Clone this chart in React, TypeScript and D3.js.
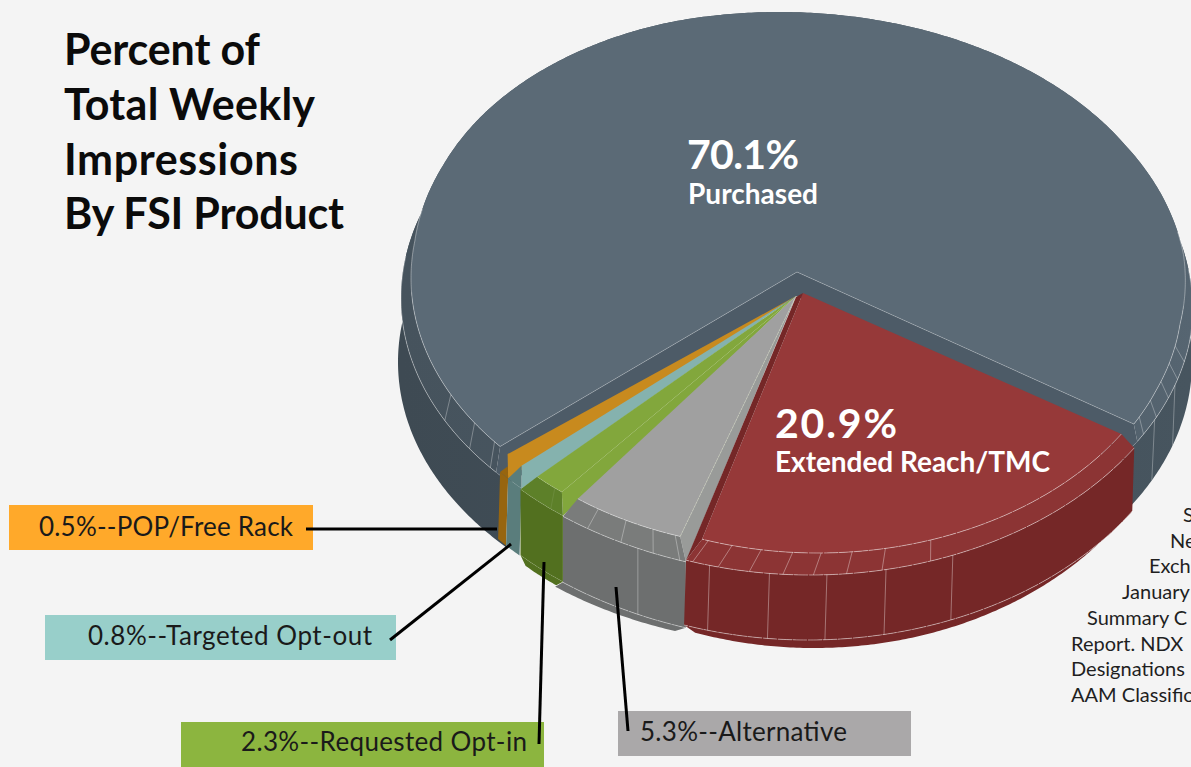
import React from "react";
import * as d3 from "d3";

// ---- data ----
const categories = ["Purchased", "Extended Reach/TMC", "Alternative", "Requested Opt-in", "Targeted Opt-out", "POP/Free Rack"];
const percents = [70.1, 20.9, 5.3, 2.3, 0.8, 0.5];
const titleLines = ["Percent of", "Total Weekly", "Impressions", "By FSI Product"];
const calloutLabels = ["0.5%--POP/Free Rack", "0.8%--Targeted Opt-out", "2.3%--Requested Opt-in", "5.3%--Alternative"];
const footLines = ["S", "Ne", "Exch", "January", "Summary C", "Report. NDX", "Designations", "AAM Classific"];

// ---- layout ----
const W = 1191, H = 767;
const FONT = "Lato, 'Open Sans', sans-serif";
type Ring = { cx: number; cy: number; rx: number; ry: number; dt?: number; warp?: (t: number) => number };
const rad = (d: number) => (d * Math.PI) / 180;
const deg = (r: number) => (r * 180) / Math.PI;
const START = 230.7;

const slices = d3.pie<number>().sort(null).value((d) => d).startAngle(rad(START)).endAngle(rad(START + 360))(percents);

// the picture's perspective pulls the far side of the top face to the left
const warpFace = d3
  .scaleLinear()
  .domain([-130, -82, -65, -50, -15, 20, 60, 85, 100, 115, 124])
  .range([0, 0, -5, -12, -27, -24, -21, -14, -13, -6, 0])
  .clamp(true);
const warpBevel = d3.scaleLinear().domain([-1, 0, 60, 85, 100, 124]).range([0, -14, -14, -8, -4, 0]).clamp(true);

const pt = (r: Ring, t: number): [number, number] => {
  const tt = t + (r.dt || 0);
  const a = rad(tt);
  const norm = ((((tt + 180) % 360) + 360) % 360) - 180;
  return [r.cx + r.rx * Math.sin(a) + (r.warp ? r.warp(norm) : 0), r.cy - r.ry * Math.cos(a)];
};
const arcPts = (r: Ring, t0: number, t1: number) => {
  const n = Math.max(2, Math.ceil(Math.abs(t1 - t0) * 2));
  return d3.range(n + 1).map((i) => pt(r, t0 + ((t1 - t0) * i) / n));
};
const closed = d3.line().curve(d3.curveLinearClosed);
const open = d3.line();
const band = (a: Ring, b: Ring, t0: number, t1: number) => closed([...arcPts(a, t0, t1), ...arcPts(b, t1, t0)]) as string;

type Look = {
  apex: [number, number]; rings: Ring[]; face: string; wall: string; bevel: string; side: string;
  bevelTicks: number[]; sideTicks: number[]; tipFrac?: number; noFace?: boolean; ink: number;
};
const looks: Look[] = [
  {
    apex: [797, 272], face: "#5b6a76", wall: "#4d5b67", bevel: "url(#slateBevel)", side: "url(#slateSide)", ink: 0.42,
    rings: [
      { cx: 805, cy: 278, rx: 394, ry: 266, warp: warpFace },
      { cx: 800, cy: 298, rx: 399, ry: 269, dt: -1.1, warp: warpBevel },
      { cx: 795, cy: 362, rx: 397, ry: 270, dt: -2 },
    ],
    bevelTicks: [232, 237, 244, 121.5, 117.4, 112.9, 108.7, 104.8], sideTicks: [118, 110],
  },
  {
    apex: [803, 293], face: "#963939", wall: "#752727", bevel: "#8c3434", side: "#752727", ink: 0.5,
    rings: [
      { cx: 818, cy: 289, rx: 363, ry: 264 },
      { cx: 810, cy: 293, rx: 388, ry: 282 },
      { cx: 808, cy: 354, rx: 388, ry: 286 },
      { cx: 814, cy: 355, rx: 372, ry: 293 },
    ],
    bevelTicks: [197.6, 193.7, 189, 184, 179.5, 174.6, 169.3, 161.9], sideTicks: [195, 186, 177.5, 168.7, 158.4],
  },
  {
    apex: [796, 296], face: "#a0a0a0", wall: "#999b99", bevel: "#7a7c7b", side: "#6d6f6f", ink: 0.45,
    rings: [
      { cx: 792, cy: 309, rx: 350, ry: 240 },
      { cx: 820, cy: 287, rx: 420, ry: 290 },
      { cx: 820, cy: 353, rx: 420, ry: 290 },
      { cx: 806, cy: 362, rx: 410, ry: 284 },
    ],
    bevelTicks: [213.6, 208.3, 203.4, 199.5], sideTicks: [205.7],
  },
  {
    apex: [796, 296], face: "#82a73c", wall: "#82a73c", bevel: "#5d8029", side: "#52701f", ink: 0.12,
    rings: [
      { cx: 702, cy: 367, rx: 229, ry: 158 },
      { cx: 804, cy: 299, rx: 394, ry: 274 },
      { cx: 804, cy: 365, rx: 394, ry: 274 },
      { cx: 730, cy: 427, rx: 284, ry: 200 },
    ],
    bevelTicks: [220], sideTicks: [],
  },
  {
    apex: [796, 296], face: "#85b2ae", wall: "#85b2ae", bevel: "#5a7d7c", side: "#5a7d7c", ink: 0, noFace: true, tipFrac: 0,
    rings: [
      { cx: 805, cy: 281, rx: 394, ry: 266 },
      { cx: 805, cy: 301, rx: 394, ry: 270 },
      { cx: 803, cy: 368, rx: 394, ry: 270 },
    ],
    bevelTicks: [], sideTicks: [],
  },
  {
    apex: [796, 296], face: "#c88a1e", wall: "#c88a1e", bevel: "#97650f", side: "#97650f", ink: 0, noFace: true, tipFrac: 0.5,
    rings: [
      { cx: 803, cy: 272, rx: 392, ry: 277 },
      { cx: 805, cy: 301, rx: 394, ry: 270 },
      { cx: 803, cy: 368, rx: 394, ry: 270 },
    ],
    bevelTicks: [], sideTicks: [],
  },
];

// callouts: box, label and leader
const boxColors = ["#ffa92a", "#98cfca", "#8cb53f", "#aaa8a9"];
const boxes = [
  { x: 9, y: 505, w: 304, h: 45, tx: 39, ty: 536, tw: 254 },
  { x: 45, y: 615, w: 351, h: 45, tx: 88, ty: 645, tw: 284 },
  { x: 181, y: 722, w: 363, h: 45, tx: 241, ty: 751, tw: 286 },
  { x: 618, y: 711, w: 293, h: 45, tx: 640, ty: 741, tw: 207 },
];
const leaders: [number, number][][] = [
  [[306, 529], [497, 529]],
  [[390, 640], [511, 544]],
  [[539, 744], [544, 562]],
  [[628, 731], [616, 587]],
];
const titleWidths = [196, 251, 234, 280];
const footX = [1183, 1170, 1149, 1122, 1087, 1071, 1071, 1071];

function Slice({ i }: { i: number }) {
  const s = slices[i];
  const L = looks[i];
  const t0 = deg(s.startAngle);
  const t1 = deg(s.endAngle);
  const [E1, E2, E3, E4] = L.rings;
  const p1a = pt(E1, t0), p2a = pt(E2, t0);
  const isRed = i === 1;
  const isSlate = i === 0;
  const wedge = isSlate ? null : (
    <path
      d={closed(isRed ? [L.apex, pt(E1, t1), pt(E2, t1), [796, 297]] : [L.apex, p1a, p2a]) as string}
      fill={L.wall}
    />
  );
  const frac = L.tipFrac;
  const bevelPath =
    frac === undefined
      ? band(E1, E2, t0, t1)
      : (closed([[p1a[0] + (p2a[0] - p1a[0]) * frac, p1a[1] + (p2a[1] - p1a[1]) * frac], ...arcPts(E2, t1, t0)]) as string);
  const tick = (a: Ring, b: Ring, t: number, k: number) => (
    <path key={`${k}-${t}`} d={open([pt(a, t), pt(b, t)]) as string} stroke="#fff" strokeOpacity={L.ink * 0.8} strokeWidth={0.9} fill="none" />
  );
  const rimLine = (r: Ring, a: number, b: number) => (
    <path d={open(arcPts(r, a, b)) as string} fill="none" stroke="#fff" strokeOpacity={L.ink} strokeWidth={0.9} strokeDasharray={isSlate ? undefined : "14 1"} />
  );
  return (
    <g>
      {E4 && <path d={band(E3, E4, t0, t1)} fill={L.side} />}
      <path d={isSlate ? band(E2, E3, t0 - 2, t1 + 4) : band(E2, E3, t0, t1)} fill={L.side} />
      {isSlate && (
        <path d={closed([L.apex, pt(E1, t0), pt(E2, t0), pt(E2, t0 - 3), [797, 296], pt(E2, t1 + 5), pt(E2, t1), pt(E1, t1)]) as string} fill={L.wall} />
      )}
      {!isRed && wedge}
      <path d={bevelPath} fill={L.bevel} />
      {!L.noFace && <path d={closed([L.apex, ...arcPts(E1, t0, t1)]) as string} fill={L.face} />}
      {isRed && wedge}
      {isSlate && <path d={open([pt(E1, t0), L.apex, pt(E1, t1)]) as string} fill="none" stroke="#fff" strokeOpacity={0.3} strokeWidth={0.8} />}
      {i === 2 && <path d={open([L.apex, pt(E1, t0)]) as string} fill="none" stroke="#d5dcc0" strokeOpacity={0.6} strokeWidth={0.8} strokeDasharray="3 1" />}
      {L.ink > 0 && !isSlate && rimLine(E1, t0, t1)}
      {L.ink > 0 && !isSlate && rimLine(E2, t0, t1)}
      {L.ink > 0 && !isSlate && rimLine(E3, t0, t1)}
      {isSlate && rimLine(E1, t0, 285)}
      {isSlate && rimLine(E1, 440, t1)}
      {isSlate && rimLine(E2, t0, 280)}
      {isSlate && rimLine(E2, 445, t1)}
      {L.bevelTicks.map((t) => tick(E1, E2, t, 1))}
      {L.sideTicks.map((t) => tick(E2, E3, t, 2))}
    </g>
  );
}

export default function App() {
  const drawOrder = [0, 5, 4, 3, 2, 1];
  return (
    <svg width={W} height={H} viewBox={`0 0 ${W} ${H}`} style={{ position: "absolute", left: 0, top: 0, display: "block", background: "#f4f4f4" }} fontFamily={FONT}>
      <defs>
        <linearGradient id="slateBevel" gradientUnits="userSpaceOnUse" x1={400} x2={1191} y1={0} y2={0}>
          <stop offset="0" stopColor="#46535d" />
          <stop offset="0.7" stopColor="#4b5964" />
          <stop offset="1" stopColor="#566571" />
        </linearGradient>
        <linearGradient id="slateSide" gradientUnits="userSpaceOnUse" x1={400} x2={1191} y1={0} y2={0}>
          <stop offset="0" stopColor="#3e4a53" />
          <stop offset="1" stopColor="#47555f" />
        </linearGradient>
      </defs>

      {drawOrder.map((i) => <Slice key={categories[i]} i={i} />)}

      {titleLines.map((t, i) => (
        <text key={t} x={64} y={65 + i * 54.8} fontSize={43} fontWeight={700} fill="#0b0b0b" textLength={titleWidths[i]}>{t}</text>
      ))}

      <text x={687} y={169} fontSize={41} fontWeight={700} fill="#fff" textLength={112}>{percents[0]}%</text>
      <text x={688} y={204} fontSize={28} fontWeight={700} fill="#fff" textLength={130}>{categories[0]}</text>
      <text x={775} y={438} fontSize={41} fontWeight={700} fill="#fff" textLength={122}>{percents[1]}%</text>
      <text x={775} y={472} fontSize={28} fontWeight={700} fill="#fff" textLength={275}>{categories[1]}</text>

      {boxes.map((b, i) => (
        <g key={i}>
          <rect x={b.x} y={b.y} width={b.w} height={b.h} fill={boxColors[i]} />
          <text x={b.tx} y={b.ty} fontSize={26} fill="#1a1a1a" textLength={b.tw}>{calloutLabels[i]}</text>
        </g>
      ))}
      {leaders.map((l, i) => (
        <path key={i} d={open(l) as string} stroke="#000" strokeWidth={3} fill="none" />
      ))}

      {footLines.map((t, i) => (
        <text key={t} x={footX[i]} y={522 + i * 25.7} fontSize={20} fill="#1f1f1f">{t}</text>
      ))}
    </svg>
  );
}
